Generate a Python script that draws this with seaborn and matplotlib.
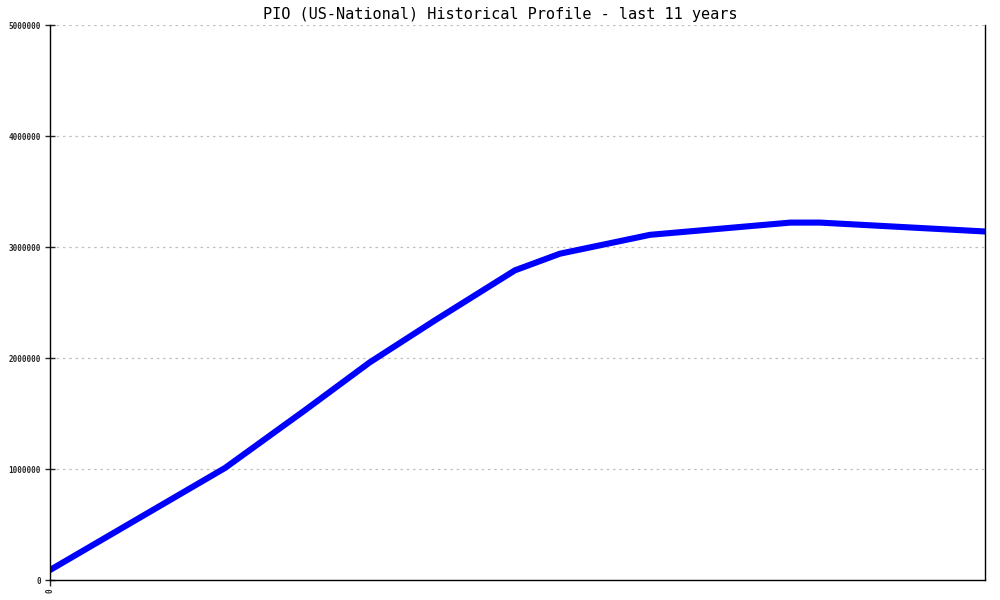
import pandas as pd
import matplotlib
matplotlib.use("Agg")
import matplotlib.pyplot as plt
import seaborn as sns

# values (x in years from start)
years = [0.0, 2.06, 3.0, 3.76, 4.53, 5.47, 6.0, 7.06, 8.71, 9.06, 11.0]
population = [90000, 1010000, 1530000, 1960000, 2340000, 2790000, 2940000,
              3110000, 3220000, 3220000, 3140000]
y_ticks = [0, 1000000, 2000000, 3000000, 4000000, 5000000]

df = pd.DataFrame({"year": years, "value": population})

sns.set_style("white")
plt.rcParams["font.family"] = ["DejaVu Sans Mono"]

fig = plt.figure(figsize=(10, 6), dpi=100)
ax = fig.add_axes([0.05, 0.0333, 0.935, 0.925])

sns.lineplot(data=df, x="year", y="value", color="#0000ff", linewidth=4.4, ax=ax)

ax.set_xlim(0, 11)
ax.set_ylim(0, 5000000)
ax.set_yticks(y_ticks)
ax.set_yticklabels([str(v) for v in y_ticks], fontsize=5.5, fontweight="bold")
ax.set_xticks([0])
ax.set_xticklabels(["0"], fontsize=5.5, fontweight="bold", rotation=90)
ax.set_xlabel("")
ax.set_ylabel("")

for t in y_ticks[1:]:
    ax.axhline(t, color="#c0c0c0", linestyle=(0, (2, 3)), linewidth=0.9, zorder=0)

ax.spines["top"].set_visible(False)
for s in ["left", "bottom", "right"]:
    ax.spines[s].set_color("black")
    ax.spines[s].set_linewidth(1.0)
ax.tick_params(axis="y", direction="inout", length=7, width=1, left=True, pad=3)
ax.tick_params(axis="x", direction="out", length=4, width=1, bottom=True, pad=2)

fig.suptitle("PIO (US-National) Historical Profile - last 11 years",
             y=0.988, va="top", fontsize=11, color="black")

fig.savefig("out.png", dpi=100)
